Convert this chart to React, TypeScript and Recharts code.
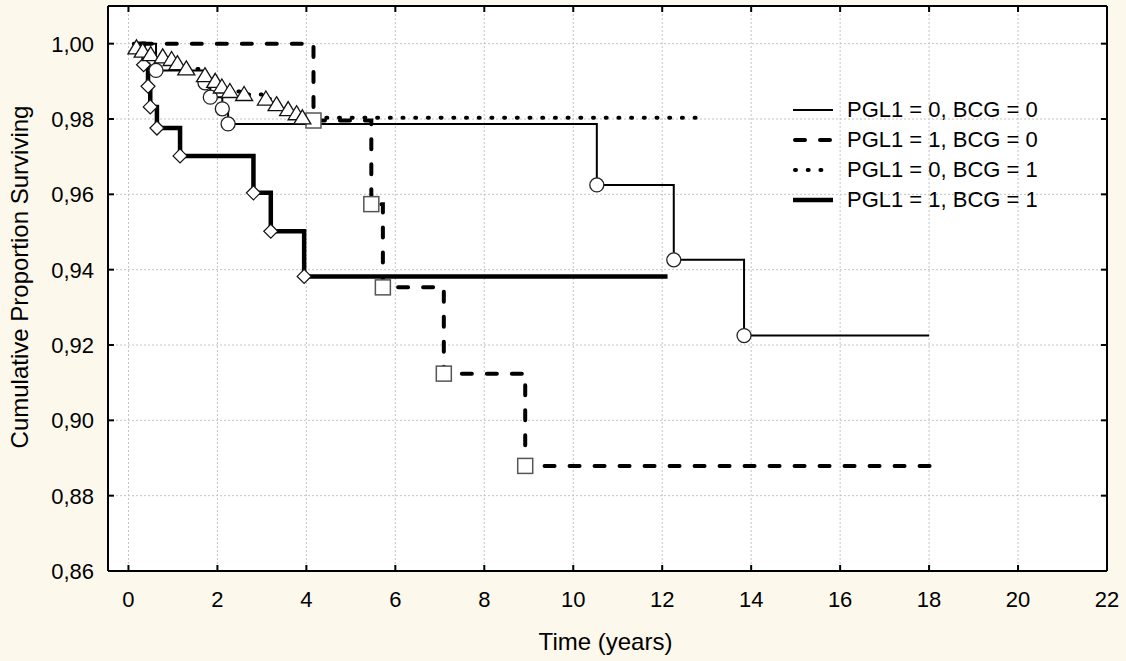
import React from "react";
import { LineChart, Line, XAxis, YAxis, CartesianGrid, Legend, Label } from "recharts";

// Kaplan-Meier curves, values
const xTicks = [0, 2, 4, 6, 8, 10, 12, 14, 16, 18, 20, 22];
const yTicks = [0.86, 0.88, 0.9, 0.92, 0.94, 0.96, 0.98, 1.0];

const seriesNames = [
  "PGL1 = 0, BCG = 0",
  "PGL1 = 1, BCG = 0",
  "PGL1 = 0, BCG = 1",
  "PGL1 = 1, BCG = 1",
];

// first point = start of curve, last point = end of follow-up (no marker)
const pgl0bcg0Time = [0.2, 0.62, 1.72, 1.84, 2.11, 2.24, 10.53, 12.26, 13.84, 18.0];
const pgl0bcg0Surv = [1.0, 0.9929, 0.9896, 0.9858, 0.9827, 0.9787, 0.9625, 0.9426, 0.9225, 0.9225];

const pgl1bcg0Time = [0.3, 4.16, 5.46, 5.72, 7.09, 8.92, 18.3];
const pgl1bcg0Surv = [1.0, 0.9796, 0.9574, 0.9353, 0.9124, 0.8879, 0.8879];

const pgl0bcg1Time = [0.12, 0.18, 0.32, 0.5, 0.77, 0.97, 1.1, 1.3, 1.72, 1.95, 2.1, 2.28, 2.6, 3.09, 3.33, 3.59, 3.78, 3.91, 12.83];
const pgl0bcg1Surv = [1.0, 0.9989, 0.998, 0.9971, 0.9965, 0.9958, 0.9947, 0.9933, 0.9915, 0.99, 0.9885, 0.9873, 0.9865, 0.9853, 0.9838, 0.9825, 0.9814, 0.9803, 0.9803];

const pgl1bcg1Time = [0.2, 0.34, 0.44, 0.49, 0.64, 1.16, 2.81, 3.2, 3.95, 12.12];
const pgl1bcg1Surv = [1.0, 0.9944, 0.9887, 0.9832, 0.9776, 0.9702, 0.9604, 0.9502, 0.9382, 0.9382];

const toPoints = (time: number[], surv: number[]) => time.map((t, i) => ({ t, s: surv[i] }));

const FONT = '"Liberation Sans", Arial, sans-serif';
const BG = "#fdf8ec";

type Marker = "circle" | "square" | "triangle" | "diamond";

const series = [
  { name: seriesNames[0], data: toPoints(pgl0bcg0Time, pgl0bcg0Surv), width: 2, dash: undefined, marker: "circle" as Marker },
  { name: seriesNames[1], data: toPoints(pgl1bcg0Time, pgl1bcg0Surv), width: 4, dash: "10 15", marker: "square" as Marker },
  { name: seriesNames[2], data: toPoints(pgl0bcg1Time, pgl0bcg1Surv), width: 4, dash: "1 11.7", marker: "triangle" as Marker },
  { name: seriesNames[3], data: toPoints(pgl1bcg1Time, pgl1bcg1Surv), width: 4.5, dash: undefined, marker: "diamond" as Marker },
];

// draw order: thick solid first, dotted last
const drawOrder = [3, 0, 1, 2];

function makeDot(marker: Marker, count: number) {
  return (props: any) => {
    const { cx, cy, index } = props;
    const key = `${marker}-${index}`;
    if (index === 0 || index === count - 1 || cx == null) return <g key={key} />;
    if (marker === "circle")
      return <circle key={key} cx={cx} cy={cy} r={7} fill="#fff" stroke="#222" strokeWidth={1.3} />;
    if (marker === "square")
      return <rect key={key} x={cx - 7.5} y={cy - 7.5} width={15} height={15} fill="#fff" stroke="#555" strokeWidth={1.5} />;
    if (marker === "triangle")
      return (
        <polygon key={key} points={`${cx},${cy - 8} ${cx + 8.5},${cy + 6} ${cx - 8.5},${cy + 6}`} fill="#fff" stroke="#111" strokeWidth={1.3} />
      );
    return (
      <polygon key={key} points={`${cx},${cy - 7} ${cx + 7},${cy} ${cx},${cy + 7} ${cx - 7},${cy}`} fill="#fff" stroke="#111" strokeWidth={1.2} />
    );
  };
}

const fmtY = (v: number) => v.toFixed(2).replace(".", ",");

const LeftTick = ({ x, y, payload }: any) => (
  <g>
    <line x1={x + 14} x2={x + 20} y1={y} y2={y} stroke="#000" strokeWidth={2} />
    <text x={x} y={y} dy="0.36em" textAnchor="end" fontSize={22} fontFamily={FONT} fill="#000">
      {fmtY(payload.value)}
    </text>
  </g>
);

const BottomTick = ({ x, y, payload }: any) => (
  <g>
    <line x1={x} x2={x} y1={y - 20} y2={y - 26} stroke="#000" strokeWidth={2} />
    <text x={x} y={y} dy="0.71em" textAnchor="middle" fontSize={22} fontFamily={FONT} fill="#000">
      {payload.value}
    </text>
  </g>
);

const TopTick = ({ x, y }: any) => <line x1={x} x2={x} y1={y} y2={y + 6} stroke="#000" strokeWidth={2} />;
const RightTick = ({ x, y }: any) => <line x1={x - 6} x2={x} y1={y} y2={y} stroke="#000" strokeWidth={2} />;

const renderLegend = () => (
  <div style={{ fontFamily: FONT, fontSize: 22, color: "#000" }}>
    {series.map((s) => (
      <div key={s.name} style={{ display: "flex", alignItems: "center", height: 30 }}>
        <svg width={40} height={30} style={{ display: "block" }}>
          <line
            x1={s.dash ? 2 : 0}
            x2={40}
            y1={15}
            y2={15}
            stroke="#000"
            strokeWidth={s.width}
            strokeDasharray={s.dash}
            strokeLinecap={s.dash ? "round" : "butt"}
          />
        </svg>
        <span style={{ marginLeft: 14, whiteSpace: "nowrap", lineHeight: "30px" }}>{s.name}</span>
      </div>
    ))}
  </div>
);

export default function App() {
  return (
    <div style={{ position: "absolute", left: 0, top: 0, width: 1126, height: 661, background: BG }}>
      <LineChart width={1126} height={661} margin={{ top: 5, right: 18, bottom: 30, left: 48 }}>
        <CartesianGrid stroke="#c4c4c4" strokeDasharray="2 2" fill="#fff" />
        <XAxis
          dataKey="t"
          type="number"
          domain={[-0.46, 22]}
          allowDataOverflow
          ticks={xTicks}
          interval={0}
          height={60}
          tickSize={0}
          tickMargin={20}
          tick={<BottomTick />}
          axisLine={{ stroke: "#000", strokeWidth: 2 }}
        >
          <Label
            content={({ viewBox }: any) => (
              <text x={viewBox.x + viewBox.width / 2 - 2} y={650} textAnchor="middle" fontSize={24} fontFamily={FONT} fill="#000">
                Time (years)
              </text>
            )}
          />
        </XAxis>
        <XAxis
          xAxisId="top"
          orientation="top"
          dataKey="t"
          type="number"
          domain={[-0.46, 22]}
          allowDataOverflow
          ticks={xTicks}
          interval={0}
          height={1}
          tickSize={0}
          tickMargin={0}
          tick={<TopTick />}
          axisLine={{ stroke: "#000", strokeWidth: 2 }}
        />
        <YAxis
          type="number"
          domain={[0.86, 1.01]}
          allowDataOverflow
          ticks={yTicks}
          interval={0}
          width={60}
          tickSize={0}
          tickMargin={14}
          tick={<LeftTick />}
          axisLine={{ stroke: "#000", strokeWidth: 2 }}
        >
          <Label
            content={() => (
              <text x={20} y={277} dy="0.35em" transform="rotate(-90, 20, 277)" textAnchor="middle" fontSize={24} fontFamily={FONT} fill="#000">
                Cumulative Proportion Surviving
              </text>
            )}
          />
        </YAxis>
        <YAxis
          yAxisId="right"
          orientation="right"
          type="number"
          domain={[0.86, 1.01]}
          allowDataOverflow
          ticks={yTicks}
          interval={0}
          width={1}
          tickSize={0}
          tickMargin={0}
          tick={<RightTick />}
          axisLine={{ stroke: "#000", strokeWidth: 2 }}
        />
        <Legend
          layout="vertical"
          align="center"
          verticalAlign="middle"
          content={renderLegend}
          wrapperStyle={{ left: 793, top: 94.5, width: 300, height: 120 }}
        />
        {drawOrder.map((i) => {
          const s = series[i];
          return (
            <Line
              key={s.name}
              name={s.name}
              data={s.data}
              dataKey="s"
              type="stepAfter"
              stroke="#000"
              strokeWidth={s.width}
              strokeDasharray={s.dash}
              strokeLinecap={s.dash ? "round" : "butt"}
              dot={makeDot(s.marker, s.data.length)}
              activeDot={false}
              isAnimationActive={false}
              legendType="none"
            />
          );
        })}
      </LineChart>
    </div>
  );
}
